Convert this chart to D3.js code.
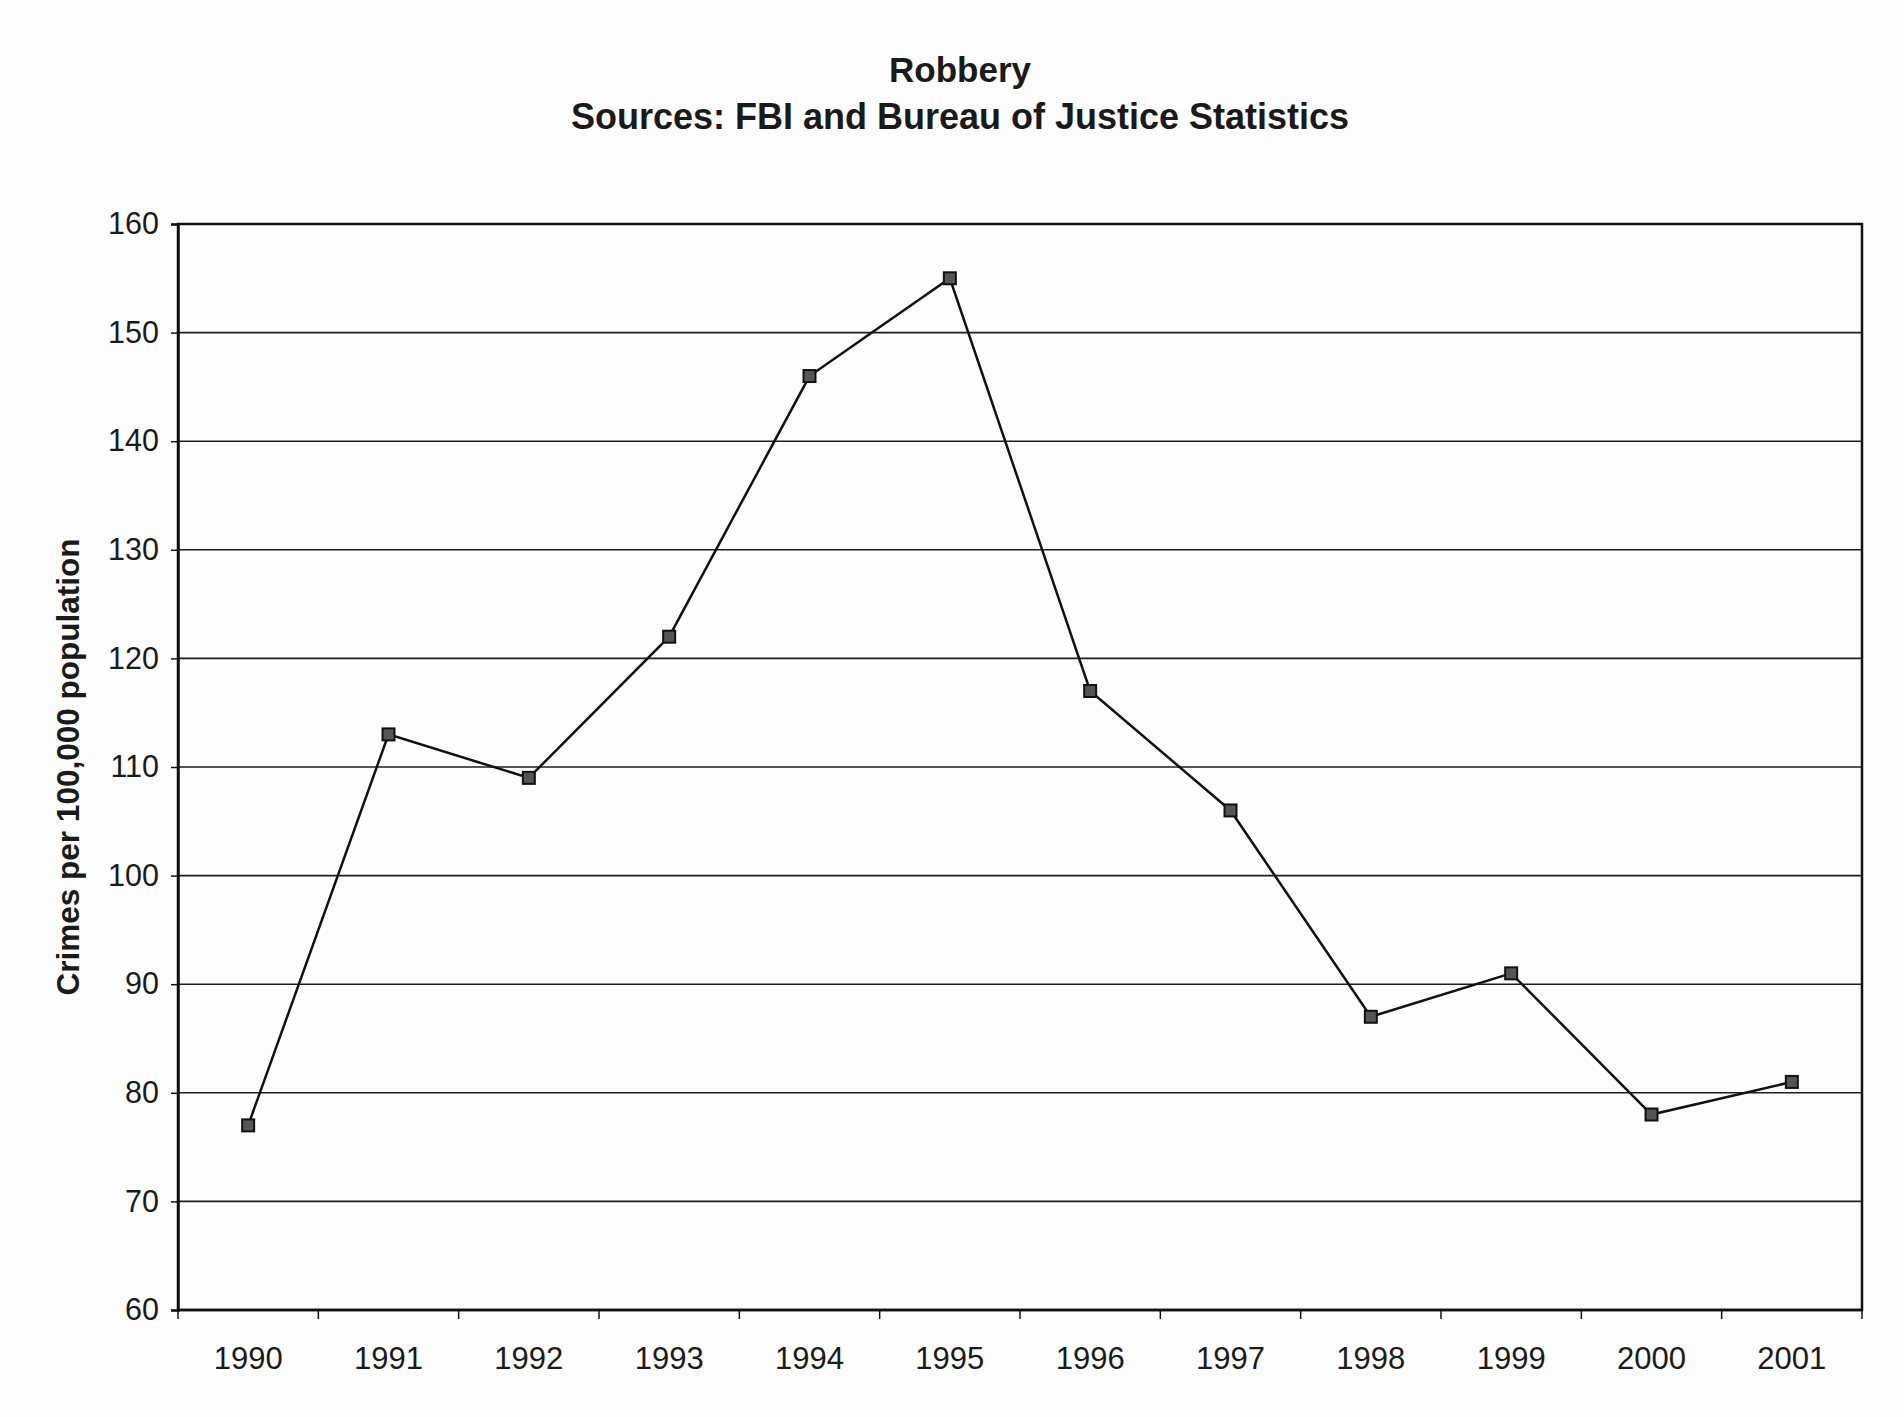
<!DOCTYPE html>
<html>
<head>
<meta charset="utf-8">
<script src="https://cdn.jsdelivr.net/npm/d3@7"></script>
<style>
  body { margin: 0; background: #fff; }
  text { font-family: "Liberation Sans", Arial, sans-serif; }
</style>
</head>
<body>
<div class="chart"></div>
<script>
// data
let years = ['1990', '1991', '1992', '1993', '1994', '1995', '1996', '1997', '1998', '1999', '2000', '2001']
let robbery = [77, 113, 109, 122, 146, 155, 117, 106, 87, 91, 78, 81]
let yTicks = [60, 70, 80, 90, 100, 110, 120, 130, 140, 150, 160]

let margin = { left: 178, right: 42, top: 224, bottom: 107 }
let width = 1904 - margin.left - margin.right
let height = 1417 - margin.top - margin.bottom

let svg = d3.select('.chart')
    .append('svg')
    .attr('width', 1904)
    .attr('height', 1417)
    .style('background', '#fdfdfd')

// titles
svg.append('text')
    .attr('x', 960).attr('y', 82)
    .attr('text-anchor', 'middle')
    .style('font-size', '35px').style('font-weight', 'bold')
    .style('fill', '#1a1a1a')
    .text('Robbery')
svg.append('text')
    .attr('x', 960).attr('y', 129)
    .attr('text-anchor', 'middle')
    .style('font-size', '36px').style('font-weight', 'bold')
    .style('fill', '#1a1a1a')
    .text('Sources: FBI and Bureau of Justice Statistics')

svg.append('text')
    .attr('transform', 'translate(79,767) rotate(-90)')
    .attr('text-anchor', 'middle')
    .style('font-size', '31.5px').style('font-weight', 'bold')
    .style('fill', '#1a1a1a')
    .text('Crimes per 100,000 population')

let g = svg.append('g')
    .attr('transform', 'translate(' + margin.left + ',' + margin.top + ')')

//scales
let x = d3.scaleBand()
    .domain(years)
    .range([0, width])

let y = d3.scaleLinear()
    .domain([60, 160])
    .range([height, 0])

// gridlines
g.append('g')
    .selectAll('line')
    .data(yTicks.filter(d => d > 60 && d < 160))
    .join('line')
    .attr('x1', 0).attr('x2', width)
    .attr('y1', d => y(d)).attr('y2', d => y(d))
    .attr('stroke', '#1e1e1e')
    .attr('stroke-width', 1.6)

// frame
g.append('rect')
    .attr('width', width).attr('height', height)
    .attr('fill', 'none')
    .attr('stroke', '#111')
    .attr('stroke-width', 2.5)

//Axis
let yAxis = d3.axisLeft(y).tickValues(yTicks).tickSize(7).tickPadding(12)
let yg = g.append('g').call(yAxis)
yg.select('.domain').attr('stroke', '#111').attr('stroke-width', 2.5)
yg.selectAll('text').style('font-size', '30.5px').style('fill', '#1a1a1a')
yg.selectAll('.tick line').attr('stroke', '#111').attr('stroke-width', 1.5)

// category ticks sit between the years
let xg = g.append('g').attr('transform', 'translate(0,' + height + ')')
xg.append('line')
    .attr('x1', 0).attr('x2', width)
    .attr('stroke', '#111').attr('stroke-width', 2.5)
xg.selectAll('.xtick')
    .data(years.concat(['end']))
    .join('line')
    .attr('class', 'xtick')
    .attr('x1', (d, i) => i * x.step()).attr('x2', (d, i) => i * x.step())
    .attr('y1', 0).attr('y2', 9)
    .attr('stroke', '#111').attr('stroke-width', 1.5)
xg.selectAll('text')
    .data(years)
    .join('text')
    .attr('x', d => x(d) + x.bandwidth() / 2)
    .attr('y', 59)
    .attr('text-anchor', 'middle')
    .style('font-size', '31px')
    .style('fill', '#1a1a1a')
    .text(d => d)

let line = d3.line()
    .x((d, i) => x(years[i]) + x.bandwidth() / 2)
    .y(d => y(d))

g.append('path')
    .attr('fill', 'none')
    .attr('stroke', '#111')
    .attr('stroke-width', 2.5)
    .attr('d', line(robbery))

g.selectAll('.marker')
    .data(robbery)
    .join('rect')
    .attr('class', 'marker')
    .attr('x', (d, i) => x(years[i]) + x.bandwidth() / 2 - 6)
    .attr('y', d => y(d) - 6)
    .attr('width', 12).attr('height', 12)
    .attr('fill', '#555')
    .attr('stroke', '#111')
    .attr('stroke-width', 2)
</script>
</body>
</html>
